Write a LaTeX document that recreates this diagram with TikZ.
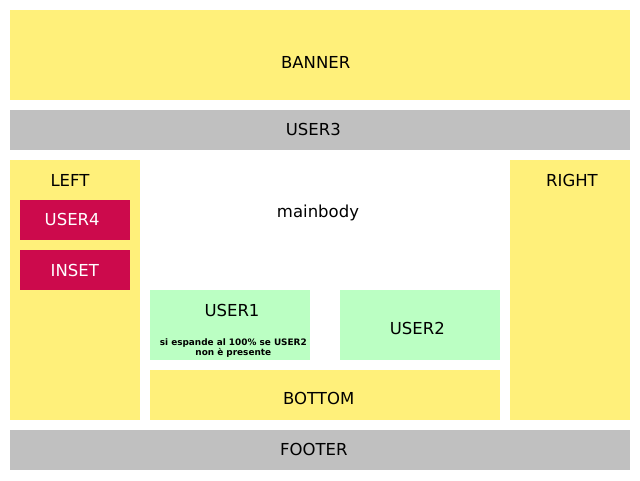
\documentclass[tikz,border=0pt]{standalone}
\usepackage{fontspec}
\setmainfont{DejaVu Sans}
\definecolor{yel}{HTML}{FFF07A}
\definecolor{gry}{HTML}{C0C0C0}
\definecolor{crim}{HTML}{CC0A4C}
\definecolor{grn}{HTML}{BBFFC3}
\begin{document}
\begin{tikzpicture}[x=1pt,y=-1pt,
  lbl/.style={font=\fontsize{16.5}{19}\selectfont,inner sep=0pt,anchor=center},
  wlbl/.style={lbl,text=white},
  small/.style={font=\bfseries\fontsize{8.9}{10}\selectfont,inner sep=0pt,align=center}]
\useasboundingbox[fill=white] (0,0) rectangle (640,480);
\fill[yel] (10,10) rectangle (630,100);
\fill[gry] (10,110) rectangle (630,150);
\fill[yel] (10,160) rectangle (140,420);
\fill[crim] (20,200) rectangle (130,240);
\fill[crim] (20,250) rectangle (130,290);
\fill[grn] (150,290) rectangle (310,360);
\fill[grn] (340,290) rectangle (500,360);
\fill[yel] (150,370) rectangle (500,420);
\fill[yel] (510,160) rectangle (630,420);
\fill[gry] (10,430) rectangle (630,470);
\node[lbl] (banner) at (315.7,62.2) {BANNER};
\node[lbl] (user3) at (313.3,129.8) {USER3};
\node[lbl] (left) at (70,180) {LEFT};
\node[wlbl] (user4) at (72.2,219.2) {USER4};
\node[wlbl] (inset) at (74.8,270) {INSET};
\node[lbl] (main) at (318,212.8) {mainbody};
\node[lbl] (user1) at (232,310.8) {USER1};
\node[small] (note) at (233.3,348) {si espande al 100\% se USER2\\non è presente};
\node[lbl] (user2) at (417.3,328.8) {USER2};
\node[lbl] (bottom) at (318.7,398.5) {BOTTOM};
\node[lbl] (right) at (572,180) {RIGHT};
\node[lbl] (footer) at (313.8,449.2) {FOOTER};
\end{tikzpicture}
\end{document}
